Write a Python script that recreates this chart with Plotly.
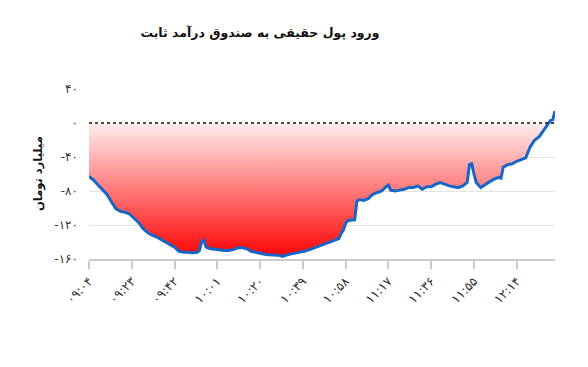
import plotly.graph_objects as go

# ---- data ----
times = ["09:04","09:06","09:08","09:10","09:12","09:14","09:16","09:18","09:20","09:22",
         "09:24","09:26","09:28","09:30","09:32","09:34","09:36","09:38","09:40","09:42",
         "09:44","09:46","09:48","09:50","09:52","09:53","09:54","09:55","09:56","09:58",
         "10:00","10:02","10:04","10:06","10:08","10:10","10:12","10:14","10:16","10:18",
         "10:20","10:22","10:24","10:26","10:28","10:30","10:32","10:34","10:36","10:38",
         "10:40","10:42","10:44","10:46","10:48","10:50","10:52","10:54","10:55","10:56",
         "10:57","10:58","10:59","11:00","11:02","11:03","11:04","11:06","11:08","11:10",
         "11:12","11:14","11:16","11:17","11:18","11:20","11:22","11:24","11:26","11:28",
         "11:30","11:32","11:34","11:36","11:38","11:40","11:42","11:44","11:46","11:48",
         "11:50","11:52","11:53","11:54","11:55","11:56","11:58","12:00","12:02","12:04",
         "12:06","12:07","12:08","12:10","12:12","12:14","12:16","12:18","12:20","12:22",
         "12:24","12:26","12:28","12:29","12:30","12:31"]

inflow = [-63, -67, -73, -78, -84, -93, -101, -104, -105, -107,
          -112, -117, -124, -129, -132, -134, -137, -140, -143, -146,
          -151, -152, -152, -152.5, -152, -150, -140, -138, -146, -148,
          -148.5, -149.5, -150, -150, -149, -147, -146.5, -148, -151, -152,
          -153.5, -154.5, -155, -155, -155.5, -157, -155, -154, -153, -152,
          -150.5, -149, -147, -145, -143, -141, -139, -137, -136, -130,
          -126, -118, -115, -114.5, -114, -92, -90, -91, -89, -84,
          -82, -80, -75, -73, -79, -80, -79, -78, -76, -76,
          -74, -78, -75, -75, -72, -70, -72, -74, -75, -76,
          -74, -70, -49, -48, -60, -70, -76, -72, -69, -66,
          -64, -65, -52, -49, -48, -45, -43, -41, -28, -20,
          -16, -8, 0, 3, 4, 14]

tick_times = ["09:04","09:23","09:42","10:01","10:20","10:39","10:58","11:17","11:36","11:55","12:14"]
tick_labels = ["۰۹:۰۴","۰۹:۲۳","۰۹:۴۲","۱۰:۰۱","۱۰:۲۰","۱۰:۳۹","۱۰:۵۸","۱۱:۱۷","۱۱:۳۶","۱۱:۵۵","۱۲:۱۴"]

y_ticks = [40, 0, -40, -80, -120, -160]
y_tick_labels = ["۴۰", "۰", "-۴۰", "-۸۰", "-۱۲۰", "-۱۶۰"]

title_text = "ورود پول حقیقی به صندوق درآمد ثابت"
y_title = "میلیارد تومان"


def to_min(t):
    h, m = t.split(":")
    return int(h) * 60 + int(m)


xs = [to_min(t) for t in times]
tick_vals = [to_min(t) for t in tick_times]

FONT = "DejaVu Sans, Noto Sans, sans-serif"

# the page body adds an 8px offset; figure is sized to compensate
W, H = 580, 359
OFF = 8
L, T, R, B = 89 - OFF, 89 - OFF, 33, H - (259 - OFF)
PW = W - L - R

fig = go.Figure()
fig.add_trace(go.Scatter(
    x=xs, y=inflow, mode="lines",
    line=dict(color="#1666c8", width=3),
    fill="tozeroy",
    fillgradient=dict(type="vertical", start=-160, stop=0,
                      colorscale=[[0, "rgb(255,0,0)"], [1, "rgb(255,238,238)"]]),
    hoverinfo="skip", showlegend=False,
))

fig.add_shape(type="line", xref="paper", yref="y", x0=0, x1=1, y0=0, y1=0,
              line=dict(color="#111111", width=1.6, dash="3px,3px"), layer="above")

fig.update_layout(
    width=W, height=H,
    margin=dict(l=L, r=R, t=T, b=B),
    paper_bgcolor="white", plot_bgcolor="white",
    title=dict(text="<b>" + title_text + "</b>", x=(260 - OFF) / W, xanchor="center",
               y=1 - (33 - OFF) / H, yanchor="middle",
               font=dict(family=FONT, size=12.5, color="#111111")),
    xaxis=dict(range=[xs[0], xs[-1]], tickmode="array", tickvals=tick_vals, ticktext=tick_labels,
               tickangle=-45, ticks="outside", ticklen=8, tickcolor="#cccccc", tickwidth=1.5,
               showline=True, linecolor="#cccccc", linewidth=2, showgrid=False, zeroline=False,
               tickfont=dict(family=FONT, size=12.5, color="#333333")),
    yaxis=dict(range=[-160, 40], tickmode="array", tickvals=y_ticks, ticktext=y_tick_labels,
               showgrid=True, gridcolor="#e3e3e3", gridwidth=1, zeroline=False, showline=False,
               ticks="", ticklabelstandoff=10,
               tickfont=dict(family=FONT, size=12, color="#333333")),
    annotations=[dict(text="<b>" + y_title + "</b>", textangle=-90, xref="paper", yref="paper",
                      x=(38 - 89) / PW, y=0.5, xanchor="center", yanchor="middle",
                      showarrow=False, font=dict(family=FONT, size=11.5, color="#111111"))],
)

fig.write_html("out.html")
